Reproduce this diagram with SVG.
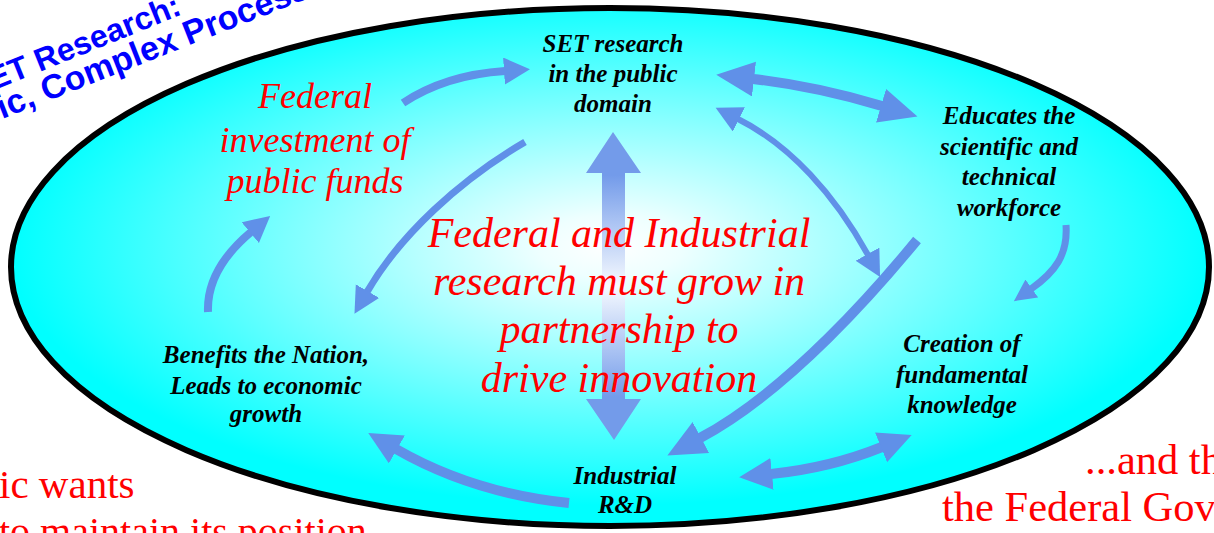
<svg xmlns="http://www.w3.org/2000/svg" width="1214" height="533" viewBox="0 0 1214 533">
  <defs>
    <radialGradient id="oval-fill" cx="0.5" cy="0.46" r="0.5">
      <stop offset="0" stop-color="#FFFFFF"/>
      <stop offset="0.12" stop-color="#EEFFFF"/>
      <stop offset="1" stop-color="#00FFFF"/>
    </radialGradient>
    <linearGradient id="axis-fill" gradientUnits="userSpaceOnUse" x1="0" y1="132" x2="0" y2="440">
      <stop offset="0" stop-color="#739BEA"/>
      <stop offset="0.14" stop-color="#739BEA"/>
      <stop offset="0.5" stop-color="#F6FAFF"/>
      <stop offset="0.86" stop-color="#739BEA"/>
      <stop offset="1" stop-color="#739BEA"/>
    </linearGradient>
    <marker id="head-xs" markerUnits="userSpaceOnUse" markerWidth="30" markerHeight="30" refX="1" refY="11" orient="auto-start-reverse">
      <path d="M0,0 L22,11 L0,22 Z" fill="#6090E8"/>
    </marker>
    <marker id="head-sm" markerUnits="userSpaceOnUse" markerWidth="30" markerHeight="30" refX="1" refY="13.5" orient="auto-start-reverse">
      <path d="M0,0 L26,13.5 L0,27 Z" fill="#6090E8"/>
    </marker>
    <marker id="head-md" markerUnits="userSpaceOnUse" markerWidth="40" markerHeight="40" refX="1" refY="16" orient="auto-start-reverse">
      <path d="M0,0 L33,16 L0,32 Z" fill="#6090E8"/>
    </marker>
    <marker id="head-lg" markerUnits="userSpaceOnUse" markerWidth="44" markerHeight="44" refX="1" refY="17.5" orient="auto-start-reverse">
      <path d="M0,0 L38,17.5 L0,35 Z" fill="#6090E8"/>
    </marker>
  </defs>
  <style>
    .title { font-family: "Liberation Sans", Arial, sans-serif; font-weight: bold; fill: #0000FF; }
    .node { font-family: "Liberation Serif", "Times New Roman", serif; font-style: italic; font-weight: bold; font-size: 25px; fill: #000000; text-anchor: middle; }
    .red-it { font-family: "Liberation Serif", "Times New Roman", serif; font-style: italic; fill: #FF0000; text-anchor: middle; }
    .side { font-family: "Liberation Serif", "Times New Roman", serif; fill: #FF0000; }
    .flow { fill: none; stroke: #6090E8; stroke-linecap: butt; }
  </style>

  <rect x="0" y="0" width="1214" height="533" fill="#FFFFFF"/>

  <!-- slide title running along the top-left of the oval -->
  <g id="title">
    <text class="title" font-size="32" transform="translate(183,14) rotate(-22)" text-anchor="end">ET Research:</text>
    <text class="title" font-size="34" transform="translate(2,119) rotate(-21.5)">ic, Complex Process</text>
  </g>

  <!-- side captions -->
  <g id="captions">
    <text class="side" font-size="41" x="-1" y="498">ic wants</text>
    <text class="side" font-size="40" x="-1" y="545">to maintain its position</text>
    <text class="side" font-size="42.5" x="1085" y="474">...and th</text>
    <text class="side" font-size="42.5" x="942" y="521">the Federal Gov</text>
  </g>

  <!-- the oval -->
  <ellipse id="oval" cx="610" cy="267" rx="599" ry="259" fill="url(#oval-fill)" stroke="#000000" stroke-width="6"/>

  <!-- vertical two-way arrow behind the central message -->
  <polygon id="partnership-axis" points="613,132 641,173 625,173 625,399 641,399 614,440 586,399 602,399 602,173 586,173" fill="url(#axis-fill)"/>

  <!-- connectors -->
  <g id="connectors">
    <path class="flow" stroke-width="8" d="M403,103 Q445,75 505,71" marker-end="url(#head-sm)"/>
    <path class="flow" stroke-width="10" d="M753,79 Q815,86 882,106" marker-start="url(#head-lg)" marker-end="url(#head-lg)"/>
    <path class="flow" stroke-width="6" d="M738,119 C790,145 835,195 868,255" marker-start="url(#head-sm)" marker-end="url(#head-sm)"/>
    <path class="flow" stroke-width="10" d="M917,240 C880,285 790,390 700,438" marker-end="url(#head-lg)"/>
    <path class="flow" stroke-width="10" d="M771,474 Q830,468 882,447" marker-start="url(#head-md)" marker-end="url(#head-md)"/>
    <path class="flow" stroke-width="10" d="M569,503 C510,497 450,480 396,449" marker-end="url(#head-md)"/>
    <path class="flow" stroke-width="8" d="M208,312 C207,285 220,258 251,232" marker-end="url(#head-sm)"/>
    <path class="flow" stroke-width="7" d="M525,142 C460,180 400,235 367,292" marker-end="url(#head-sm)"/>
    <path class="flow" stroke-width="7" d="M1066,225 C1068,255 1055,272 1031,289" marker-end="url(#head-xs)"/>
  </g>

  <!-- nodes -->
  <g id="node-public-domain">
    <text class="node" x="613" y="52">SET research</text>
    <text class="node" x="613" y="82">in the public</text>
    <text class="node" x="613" y="112">domain</text>
  </g>
  <g id="node-workforce">
    <text class="node" x="1009" y="124">Educates the</text>
    <text class="node" x="1009" y="155">scientific and</text>
    <text class="node" x="1009" y="185">technical</text>
    <text class="node" x="1009" y="216">workforce</text>
  </g>
  <g id="node-knowledge">
    <text class="node" x="962" y="352">Creation of</text>
    <text class="node" x="962" y="383">fundamental</text>
    <text class="node" x="962" y="413">knowledge</text>
  </g>
  <g id="node-industrial">
    <text class="node" x="625" y="484">Industrial</text>
    <text class="node" x="625" y="513">R&amp;D</text>
  </g>
  <g id="node-benefits">
    <text class="node" x="266" y="363">Benefits the Nation,</text>
    <text class="node" x="266" y="394">Leads to economic</text>
    <text class="node" x="266" y="422">growth</text>
  </g>
  <g id="node-federal">
    <text class="red-it" font-size="36" x="315" y="108">Federal</text>
    <text class="red-it" font-size="36" x="315" y="152">investment of</text>
    <text class="red-it" font-size="36" x="315" y="193">public funds</text>
  </g>
  <g id="message">
    <text class="red-it" font-size="42" x="619" y="247">Federal and Industrial</text>
    <text class="red-it" font-size="42" x="619" y="295">research must grow in</text>
    <text class="red-it" font-size="42" x="619" y="343">partnership to</text>
    <text class="red-it" font-size="42" x="619" y="392">drive innovation</text>
  </g>
</svg>
